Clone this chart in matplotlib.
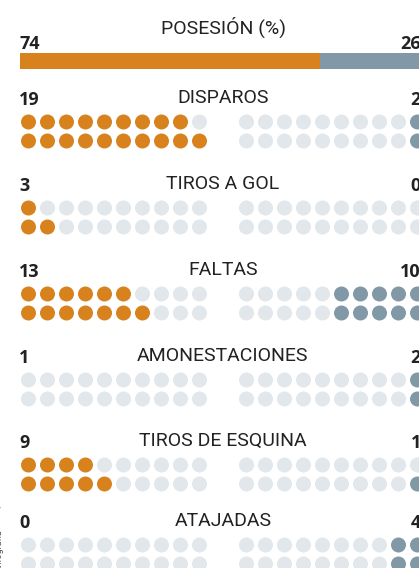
import matplotlib
matplotlib.use("Agg")
import matplotlib.pyplot as plt
from matplotlib.patches import Circle, Rectangle

# data
possession = [74, 26]
categories = ["DISPAROS", "TIROS A GOL", "FALTAS", "AMONESTACIONES",
              "TIROS DE ESQUINA", "ATAJADAS"]
left_values = [19, 3, 13, 1, 9, 0]
right_values = [2, 0, 10, 2, 1, 4]
# filled dots as drawn in the graphic (the 1 caution on the left is not drawn)
left_dots = [19, 3, 13, 0, 9, 0]
right_dots = [2, 0, 10, 2, 1, 4]

ORANGE = "#d8821e"
BLUE = "#8199a6"
EMPTY = "#e1e7eb"
INK = "#222222"

W, H = 419, 568
fig = plt.figure(figsize=(W / 100, H / 100), dpi=100)
ax = fig.add_axes([0, 0, 1, 1])
ax.set_xlim(0, W)
ax.set_ylim(H, 0)
ax.axis("off")

LABEL_FONT = "Roboto"
NUM_FONT = "Open Sans"

x_left = 20          # left edge of the graphic
x_right = 426        # right edge (graphic is cropped at 419)
num_right = 421      # right edge of the right-hand numbers
center = (x_left + x_right) / 2
step = 19            # dot spacing
r = 7.5              # dot radius

# possession
ax.text(center, 27, "POSESIÓN (%)", ha="center", va="center",
        fontsize=14, family=LABEL_FONT, color=INK)
ax.text(x_left - 1, 49, str(possession[0]), ha="left", va="baseline",
        fontsize=13, family=NUM_FONT, weight="bold", color=INK)
ax.text(num_right, 49, str(possession[1]), ha="right", va="baseline",
        fontsize=13, family=NUM_FONT, weight="bold", color=INK)
total = x_right - x_left
split = x_left + total * possession[0] / 100
ax.add_patch(Rectangle((x_left, 53), split - x_left, 16, color=ORANGE, lw=0))
ax.add_patch(Rectangle((split, 53), x_right - split, 16, color=BLUE, lw=0))

row_y = [98, 184, 270, 356, 441, 521]
for i, cat in enumerate(categories):
    y = row_y[i]
    ax.text(center, y, cat, ha="center", va="center",
            fontsize=14, family=LABEL_FONT, color=INK)
    ax.text(x_left - 1, y + 7, str(left_values[i]), ha="left", va="baseline",
            fontsize=13, family=NUM_FONT, weight="bold", color=INK)
    ax.text(num_right, y + 7, str(right_values[i]), ha="right", va="baseline",
            fontsize=13, family=NUM_FONT, weight="bold", color=INK)

    rows_y = [y + 24, y + 43]
    nl, nr = left_dots[i], right_dots[i]
    # bottom row takes the extra dot
    left_fill = [nl // 2, nl - nl // 2]
    right_fill = [nr // 2, nr - nr // 2]
    for k, yy in enumerate(rows_y):
        for j in range(10):
            cx = x_left + r + 1 + j * step
            c = ORANGE if j < left_fill[k] else EMPTY
            ax.add_patch(Circle((cx, yy), r, color=c, lw=0))
            cx = x_right - r - 1 - j * step
            c = BLUE if j < right_fill[k] else EMPTY
            ax.add_patch(Circle((cx, yy), r, color=c, lw=0))

# credit running up the left edge (cropped in the reference)
ax.text(-1, 568, "Infografía", rotation=90, ha="center", va="bottom",
        fontsize=6.5, family=LABEL_FONT, color="#555555")
ax.text(-1, 520, "EL |", rotation=90, ha="center", va="bottom",
        fontsize=6.5, family=LABEL_FONT, weight="bold", color=ORANGE)

fig.savefig("out.png", dpi=100, facecolor="white")
